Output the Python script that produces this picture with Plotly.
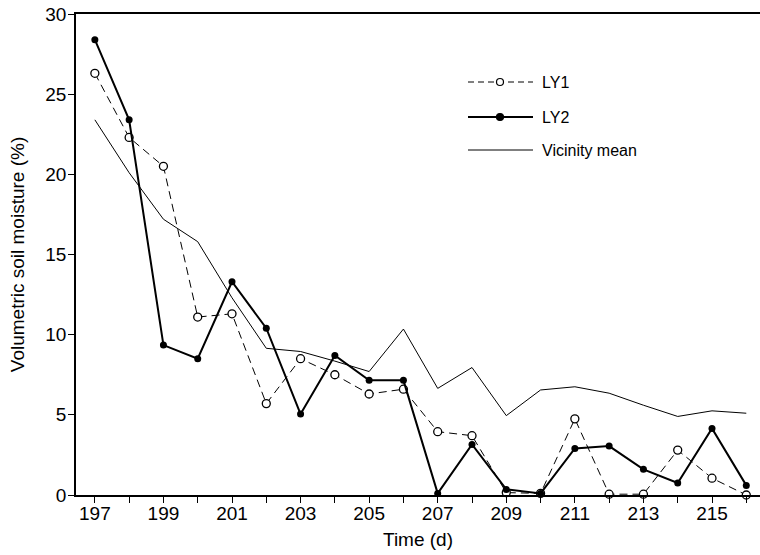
import plotly.graph_objects as go

days = list(range(197, 217))
ly1 = [26.3, 22.3, 20.5, 11.1, 11.3, 5.7, 8.5, 7.5, 6.3, 6.6,
       3.95, 3.7, 0.15, 0.1, 4.75, 0.05, 0.05, 2.8, 1.05, 0.0]
ly2 = [28.4, 23.4, 9.35, 8.5, 13.3, 10.4, 5.05, 8.7, 7.15, 7.15,
       0.1, 3.15, 0.35, 0.1, 2.9, 3.05, 1.6, 0.75, 4.15, 0.6]
vic = [23.4, 20.1, 17.2, 15.8, 12.3, 9.15, 8.95, 8.35, 7.7, 10.35,
       6.65, 7.95, 4.95, 6.55, 6.75, 6.35, 5.6, 4.9, 5.25, 5.1]
x_ticks = list(range(197, 217, 2))
y_ticks = [0, 5, 10, 15, 20, 25, 30]
legend_names = ["LY1", "LY2", "Vicinity mean"]

FONT = "Liberation Sans, Arial, Helvetica, sans-serif"

fig = go.Figure()
fig.add_trace(go.Scatter(x=days, y=vic, mode="lines", name=legend_names[2],
                         line=dict(color="black", width=1), showlegend=False))
fig.add_trace(go.Scatter(x=days, y=ly1, mode="lines+markers", name=legend_names[0],
                         line=dict(color="black", width=1, dash="8px,5px"),
                         marker=dict(symbol="circle", size=8, color="white",
                                     line=dict(color="black", width=1.3)),
                         showlegend=False, cliponaxis=False))
fig.add_trace(go.Scatter(x=days, y=ly2, mode="lines+markers", name=legend_names[1],
                         line=dict(color="black", width=2),
                         marker=dict(symbol="circle", size=7, color="black"),
                         showlegend=False, cliponaxis=False))

# manual legend (paper coordinates)
W, H = 760, 555
ml, mr, mt, mb = 76, 0, 14, 60
pw, ph = W - ml - mr, H - mt - mb
def px(x):
    return (x - ml) / pw
def py(y):
    return 1 - (y - mt) / ph

shapes = []
annotations = []
rows = [82, 117, 150]
styles = [dict(color="black", width=1, dash="6px,4px"),
          dict(color="black", width=2),
          dict(color="black", width=1)]
for i, (name, yy, st) in enumerate(zip(legend_names, rows, styles)):
    shapes.append(dict(type="line", xref="paper", yref="paper",
                       x0=px(468), x1=px(533), y0=py(yy), y1=py(yy), line=st))
    if i < 2:
        shapes.append(dict(type="circle", xref="paper", yref="paper",
                           xsizemode="pixel", ysizemode="pixel",
                           xanchor=px(500), yanchor=py(yy),
                           x0=-3.5, x1=3.5, y0=-3.5, y1=3.5,
                           fillcolor="white" if i == 0 else "black",
                           line=dict(color="black", width=1.2)))
    annotations.append(dict(text=name, xref="paper", yref="paper",
                            x=px(540), y=py(yy), xanchor="left", yanchor="middle",
                            showarrow=False, font=dict(size=16, color="black", family=FONT)))

fig.update_layout(
    width=W, height=H,
    margin=dict(l=ml, r=mr, t=mt, b=mb),
    plot_bgcolor="white", paper_bgcolor="white",
    font=dict(family=FONT, color="black", size=19),
    shapes=shapes, annotations=annotations,
    xaxis=dict(range=[196.45, 216.4], tickvals=x_ticks, ticks="outside", ticklen=6,
               tickwidth=1, tickcolor="black", ticklabelstandoff=-6,
               minor=dict(dtick=1, tick0=197, ticks="outside", ticklen=6, tickcolor="black"),
               showline=True, linecolor="black", linewidth=1.5, mirror=True,
               showgrid=False, zeroline=False,
               title=dict(text="Time (d)", standoff=10, font=dict(size=19)),
               tickfont=dict(size=19)),
    yaxis=dict(range=[0, 30], tickvals=y_ticks, ticks="outside", ticklen=6,
               tickwidth=1, tickcolor="black", ticklabelstandoff=-2,
               showline=True, linecolor="black", linewidth=1.5,
               showgrid=False, zeroline=False,
               title=dict(text="Volumetric soil moisture (%)", standoff=16, font=dict(size=19)),
               tickfont=dict(size=19)),
)

fig.write_html("out.html")
